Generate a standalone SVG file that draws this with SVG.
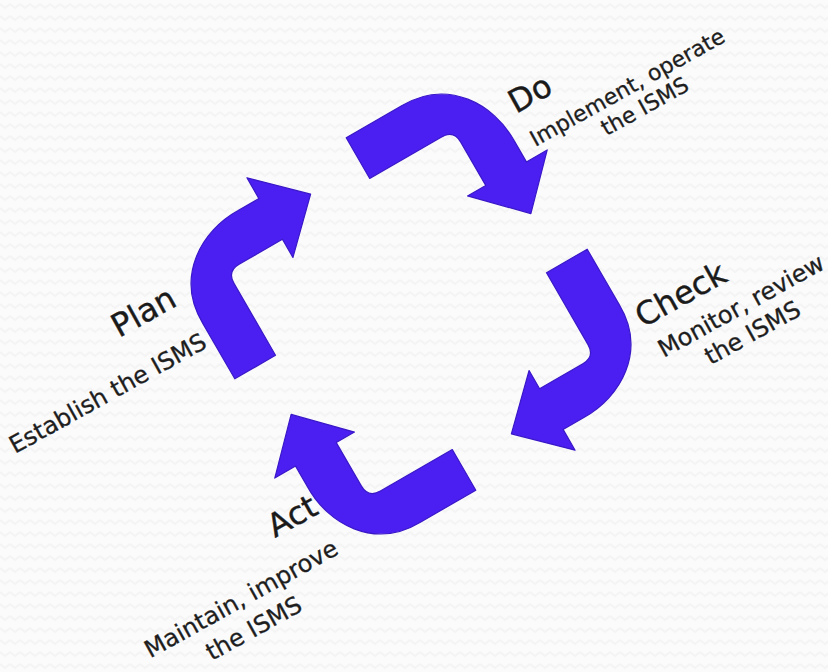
<svg xmlns="http://www.w3.org/2000/svg" xmlns:xlink="http://www.w3.org/1999/xlink" width="828" height="672" viewBox="0 0 828 672">
  <style>
    .main { font-family: "DejaVu Sans", Verdana, sans-serif; font-size: 32px; fill: #1a1a1a; stroke: #1a1a1a; stroke-width: 0.4; }
    .sub { font-family: "DejaVu Sans", Verdana, sans-serif; font-size: 24px; fill: #1e1e1e; stroke: #1e1e1e; stroke-width: 0.3; text-anchor: middle; }
    .arrow { fill: #4b1ff2; stroke: #3a18c8; stroke-width: 1.2; stroke-linejoin: round; }
  </style>
  <defs>
    <pattern id="bg" width="10" height="12" patternUnits="userSpaceOnUse">
      <rect width="10" height="12" fill="#fbfbfb"/>
      <path d="M0,4 L5,8 L10,4" fill="none" stroke="#f4f4f4" stroke-width="2"/>
    </pattern>
    <path id="arc" class="arrow" d="M32,-185 L96,-185 C150,-186 177,-140 176,-98 L176,-74 L200,-74 L154,-27 L108,-74 L129,-74 L129,-124 Q129,-138 115,-138 L32,-138 Z"/>
  </defs>
  <rect width="828" height="672" fill="url(#bg)"/>

  <g id="connectors" transform="translate(411,314) rotate(-30)">
    <use xlink:href="#arc" href="#arc"/>
    <use xlink:href="#arc" href="#arc" transform="rotate(90)"/>
    <use xlink:href="#arc" href="#arc" transform="rotate(180)"/>
    <use xlink:href="#arc" href="#arc" transform="rotate(270)"/>
  </g>

  <g id="do">
    <text class="main" transform="translate(516,114) rotate(-29)">Do</text>
    <g transform="translate(631,94) rotate(-29)">
      <text class="sub" style="font-size:22px" x="0" y="0">Implement, operate</text>
      <text class="sub" style="font-size:22px" x="6" y="25">the ISMS</text>
    </g>
  </g>

  <g id="check">
    <text class="main" transform="translate(643,328) rotate(-29)">Check</text>
    <g transform="translate(745,313) rotate(-29)">
      <text class="sub" x="0" y="0">Monitor, review</text>
      <text class="sub" x="-3" y="29">the ISMS</text>
    </g>
  </g>

  <g id="act">
    <text class="main" transform="translate(275,538) rotate(-29)">Act</text>
    <g transform="translate(245,606) rotate(-29)">
      <text class="sub" x="0" y="0">Maintain, improve</text>
      <text class="sub" x="-3" y="32">the ISMS</text>
    </g>
  </g>

  <g id="plan">
    <text class="main" transform="translate(119,338) rotate(-29)">Plan</text>
    <text class="sub" style="text-anchor:start" transform="translate(15,454) rotate(-29)">Establish the ISMS</text>
  </g>
</svg>
